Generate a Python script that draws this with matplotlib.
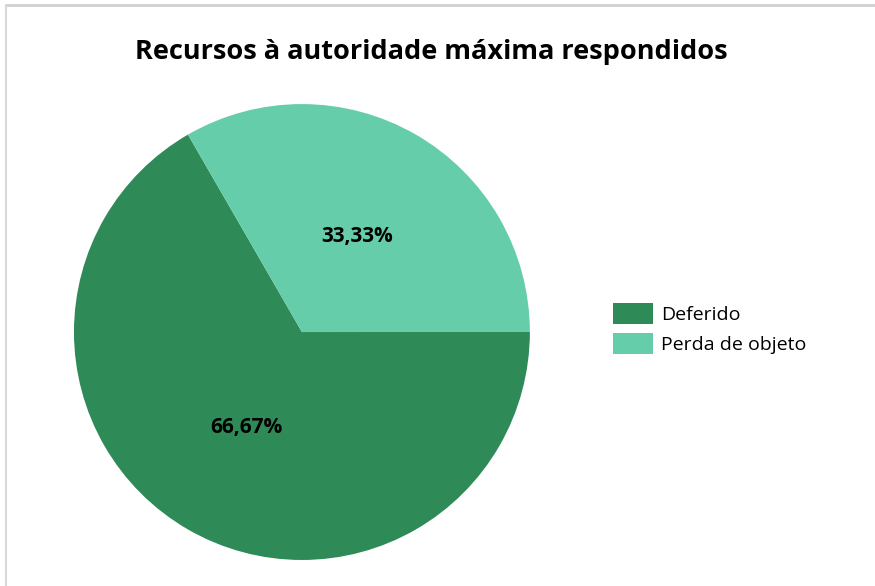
import matplotlib.pyplot as plt
from matplotlib.lines import Line2D

# Data
labels = ['Deferido', 'Perda de objeto']
values = [66.67, 33.33]
colors = ['#2E8B57', '#66CDAA']

fig = plt.figure(figsize=(8.75, 5.86), dpi=100)
ax = fig.add_axes([0.0845, 0.0444, 0.5211, 0.778])

wedges, texts, autotexts = ax.pie(values, colors=colors, startangle=120,
                                  autopct=lambda p: f'{p:.2f}%'.replace('.', ','),
                                  pctdistance=0.485, radius=1.0,
                                  wedgeprops=dict(linewidth=0),
                                  textprops=dict(fontsize=15, fontweight='bold',
                                                 family='Open Sans', color='black'))
ax.set_xlim(-1, 1)
ax.set_ylim(-1, 1)
ax.set_aspect('equal')

fig.text(0.493, 0.912, 'Recursos à autoridade máxima respondidos',
         ha='center', va='center', fontsize=19.5, fontweight='bold', family='Open Sans')

fig.legend(wedges, labels, loc='center left', bbox_to_anchor=(0.69, 0.44),
           frameon=False, prop=dict(family='Open Sans', size=14),
           handlelength=2.05, handleheight=1.3, labelspacing=0.45,
           handletextpad=0.4, borderpad=0)

# thin grey border on top and left edge
fig.add_artist(Line2D([0.007, 1.0], [0.992, 0.992], color='#d0d0d0', lw=2, transform=fig.transFigure))
fig.add_artist(Line2D([0.007, 0.007], [0.0, 0.992], color='#d9d9d9', lw=1.5, transform=fig.transFigure))

fig.savefig('out.png', dpi=100)
